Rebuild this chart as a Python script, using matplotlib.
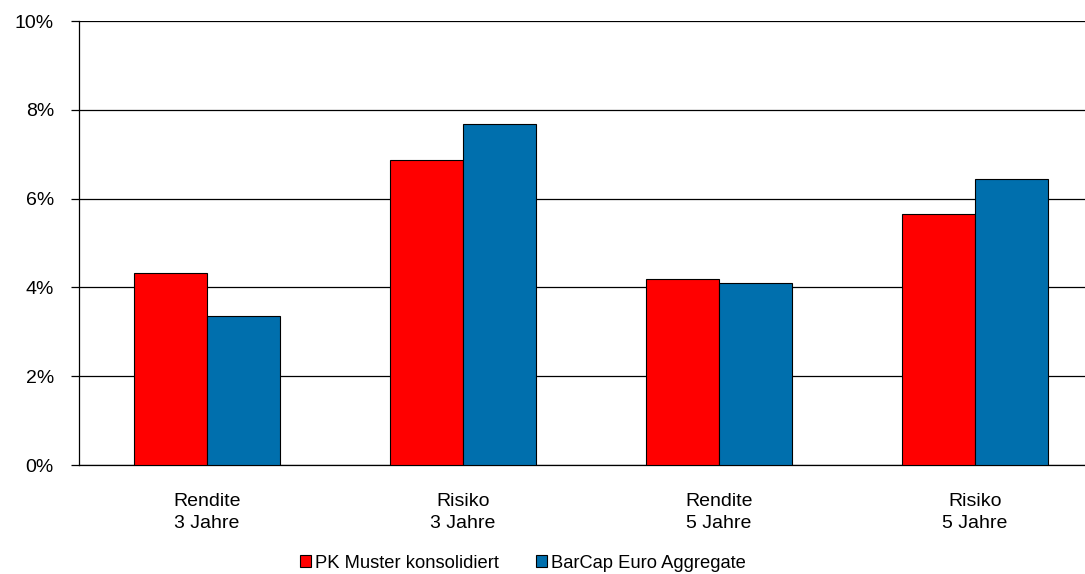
import matplotlib.pyplot as plt
import numpy as np
from matplotlib.patches import Patch

categories = ["Rendite\n3 Jahre", "Risiko\n3 Jahre", "Rendite\n5 Jahre", "Risiko\n5 Jahre"]
pk_muster = [4.32, 6.88, 4.19, 5.65]
barcap = [3.36, 7.68, 4.10, 6.45]
series_names = ["PK Muster konsolidiert", "BarCap Euro Aggregate"]
colors = ["#ff0000", "#006fad"]

plt.rcParams["font.family"] = ["Liberation Sans", "DejaVu Sans"]

fig = plt.figure(figsize=(10.85, 5.74), dpi=100)
ax = fig.add_axes([79 / 1085, 109 / 574, 1006 / 1085, 444 / 574])

x = np.arange(len(categories))
w = 0.285
ax.bar(x - w / 2, pk_muster, w, color=colors[0], edgecolor="black", linewidth=0.8, zorder=3)
ax.bar(x + w / 2, barcap, w, color=colors[1], edgecolor="black", linewidth=0.8, zorder=3)

ax.set_xlim(-0.5, -0.5 + 1006 / 256)
ax.set_ylim(0, 10)
ax.set_yticks(range(0, 11, 2))
ax.set_yticklabels([f"{v}%" for v in range(0, 11, 2)], fontsize=14)
ax.yaxis.grid(True, color="black", linewidth=0.9, zorder=0)
ax.set_axisbelow(True)
ax.tick_params(axis="y", length=6, width=0.9, pad=12)
ax.set_xticks(x)
ax.set_xticklabels(categories, fontsize=14, linespacing=1.4)
ax.tick_params(axis="x", length=0, pad=20)

for s in ["top", "right"]:
    ax.spines[s].set_visible(False)
ax.spines["left"].set_linewidth(0.9)
ax.spines["bottom"].set_linewidth(0.9)

handles = [Patch(facecolor=c, edgecolor="black", linewidth=0.8) for c in colors]
fig.legend(handles, series_names, loc="center", bbox_to_anchor=(523 / 1085, 1 - 563 / 574),
           ncol=2, frameon=False, fontsize=13.2, handlelength=0.6, handleheight=0.6,
           handletextpad=0.25, columnspacing=2.0)

fig.savefig("out.png", dpi=100)
